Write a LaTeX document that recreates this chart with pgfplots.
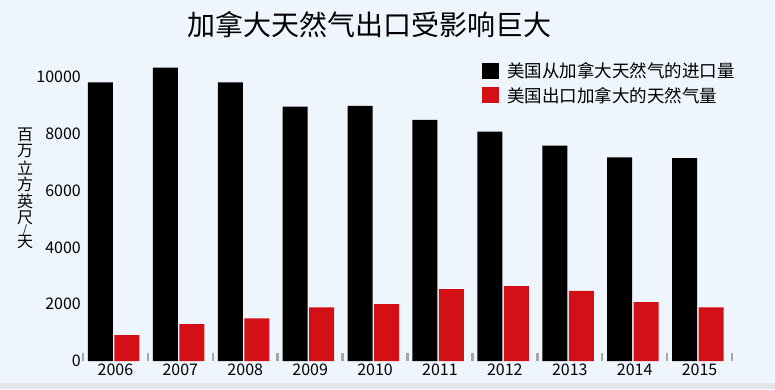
\documentclass[border=0pt]{standalone}
\usepackage{fontspec}
\setmainfont{Noto Sans CJK SC}
\usepackage{pgfplots}
\pgfplotsset{compat=1.18}
\definecolor{bgc}{RGB}{238,245,252}
\definecolor{stripc}{RGB}{226,229,233}
\definecolor{barred}{RGB}{210,16,22}
\begin{document}
\begin{tikzpicture}[x=1pt,y=1pt]
\fill[bgc] (0,0) rectangle (775,389);
\fill[stripc] (0,0) rectangle (775,6);
\node[font=\fontsize{28}{28}\selectfont] at (369,364) {加拿大天然气出口受影响巨大};
\begin{scope}[every node/.style={font=\fontsize{16}{16}\selectfont, inner sep=0pt}]
\node at (25,254) {百};
\node at (25,237.5) {万};
\node at (25,221) {立};
\node at (25,204.5) {方};
\node at (25,188) {英};
\node at (25,171.5) {尺};
\node[font=\fontsize{11}{11}\selectfont] at (25,159) {/};
\node at (25,146.5) {天};
\end{scope}
\begin{axis}[
  at={(83pt,28pt)}, anchor=south west,
  scale only axis, width=649pt, height=312.4pt,
  xmin=-0.5, xmax=9.5, ymin=0, ymax=11000,
  axis lines*=left, axis line style={draw=none},
  xtick={0,...,9},
  xticklabels={2006,2007,2008,2009,2010,2011,2012,2013,2014,2015},
  minor xtick={-0.5,0.5,...,9.5},
  major tick length=0pt,
  minor tick length=8pt,
  tick align=inside,
  minor tick style={draw=gray!70, line width=2.5pt},
  ytick={0,2000,4000,6000,8000,10000},
  scaled y ticks=false,
  /pgf/number format/assume math mode=true,
  yticklabel style={/pgf/number format/1000 sep={}, font=\fontsize{16}{16}\selectfont, anchor=east, inner sep=2pt},
  xticklabel style={font=\fontsize{16}{16}\selectfont, inner sep=3pt},
  legend style={at={(0.615,0.962)}, anchor=north west, draw=none, fill=none,
    inner sep=0pt, row sep=4pt, font=\fontsize{17.5}{17.5}\selectfont,
    nodes={inner sep=2pt},
    /tikz/every odd column/.append style={column sep=6pt}},
  legend cell align=left,
  legend image code/.code={\fill[#1] (0pt,-8pt) rectangle (17pt,8pt);},
  clip=false,
]
\addplot[ybar, bar width=25pt, bar shift=-15pt, fill=black, draw=none]
  coordinates {(0,9810) (1,10330) (2,9810) (3,8955) (4,8980) (5,8490) (6,8075) (7,7580) (8,7170) (9,7140)};
\addlegendentry{美国从加拿大天然气的进口量}
\addplot[ybar, bar width=25pt, bar shift=11.5pt, fill=barred, draw=none]
  coordinates {(0,915) (1,1300) (2,1500) (3,1890) (4,2000) (5,2535) (6,2640) (7,2465) (8,2070) (9,1890)};
\addlegendentry{美国出口加拿大的天然气量}
\end{axis}
\pgfresetboundingbox
\path (0,0) rectangle (775,389);
\end{tikzpicture}
\end{document}
